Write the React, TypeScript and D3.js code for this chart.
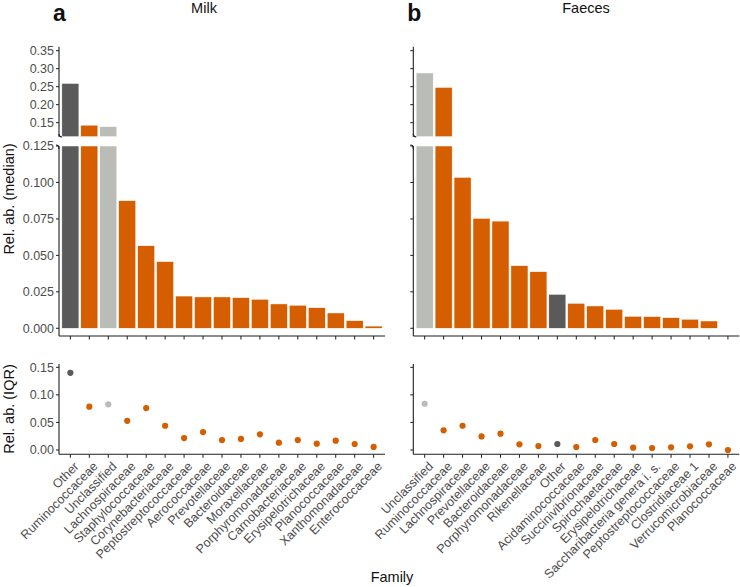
import React from 'react';
import * as d3 from 'd3';

// Milk (panel a)
const milkFamilies = ['Other', 'Ruminococcaceae', 'Unclassified', 'Lachnospiraceae', 'Staphylococcaceae',
  'Corynebacteriaceae', 'Peptostreptococcaceae', 'Aerococcaceae', 'Prevotellaceae', 'Bacteroidaceae',
  'Moraxellaceae', 'Porphyromonadaceae', 'Carnobacteriaceae', 'Erysipelotrichaceae', 'Planococcaceae',
  'Xanthomonadaceae', 'Enterococcaceae'];
const milkMedian = [0.259, 0.143, 0.139, 0.0875, 0.0566, 0.0457, 0.0221, 0.0215, 0.0215, 0.021,
  0.0199, 0.0167, 0.0158, 0.0141, 0.0105, 0.0052, 0.0015];
const milkIQR = [0.140, 0.0785, 0.0828, 0.053, 0.076, 0.044, 0.0217, 0.0326, 0.018, 0.020,
  0.0284, 0.0133, 0.018, 0.0115, 0.0169, 0.0109, 0.0055];

// Faeces (panel b)
const faecesFamilies = ['Unclassified', 'Ruminococcaceae', 'Lachnospiraceae', 'Prevotellaceae', 'Bacteroidaceae',
  'Porphyromonadaceae', 'Rikenellaceae', 'Other', 'Acidaminococcaceae', 'Succinivibrionaceae',
  'Spirochaetaceae', 'Erysipelotrichaceae', 'Saccharibacteria genera i. s.', 'Peptostreptococcaceae',
  'Clostridiaceae 1', 'Verrucomicrobiaceae', 'Planococcaceae'];
const faecesMedian = [0.288, 0.248, 0.1035, 0.0754, 0.0735, 0.0429, 0.0388, 0.0233, 0.0171, 0.0153,
  0.013, 0.0082, 0.008, 0.0073, 0.0062, 0.005, 0.0];
const faecesIQR = [0.0839, 0.0356, 0.044, 0.0247, 0.0296, 0.0103, 0.0072, 0.0109, 0.0054, 0.0181,
  0.0109, 0.0042, 0.0036, 0.0048, 0.0066, 0.0103, 0.0];

const upperTicks = [0.15, 0.2, 0.25, 0.3, 0.35];
const lowerTicks = [0, 0.025, 0.05, 0.075, 0.1, 0.125];
const iqrTicks = [0, 0.05, 0.1, 0.15];

const ORANGE = '#D55E00';
const DARK = '#5A5A5A';
const LIGHT = '#BABCB7';
const AXIS = '#1f1f1f';
const TICKTXT = '#4D4D4D';
const FONT = '"Liberation Sans", Arial, Helvetica, sans-serif';

const colorOf = (f: string) => (f === 'Other' ? DARK : f === 'Unclassified' ? LIGHT : ORANGE);

const BREAK = 0.125;
const yUpper = d3.scaleLinear().domain([0.111, 0.361]).range([136.7, 46.7]);
const yLower = d3.scaleLinear().domain([-0.0053, BREAK]).range([336, 146]);
const yIQR = d3.scaleLinear().domain([-0.0078, 0.156]).range([454.3, 364]);

type PanelProps = {
  families: string[];
  median: number[];
  iqr: number[];
  x0: number;
  x1: number;
  showLabels: boolean;
  letter: string;
  title: string;
  titleX: number;
};

function Panel({ families, median, iqr, x0, x1, showLabels, letter, title, titleX }: PanelProps) {
  const x = d3.scalePoint<string>().domain(families).range([x0, x1]).padding(0.6);
  const bw = x.step() * 0.9;
  const f3 = d3.format('.3f');
  const f2 = d3.format('.2f');

  const yAxis = (scale: d3.ScaleLinear<number, number>, ticks: number[], fmt: (v: number) => string) => (
    <g>
      {ticks.map(t => (
        <g key={t}>
          <line x1={x0 - 3} x2={x0} y1={scale(t)} y2={scale(t)} stroke={AXIS} strokeWidth={1} />
          {showLabels && (
            <text x={x0 - 5} y={scale(t)} dy="0.35em" textAnchor="end" fontSize={12.5} fill={TICKTXT}>{fmt(t)}</text>
          )}
        </g>
      ))}
    </g>
  );

  return (
    <g fontFamily={FONT}>
      <text x={x0 - 6} y={21} fontSize={23} fontWeight="bold" fill="#111">{letter}</text>
      <text x={titleX} y={13} fontSize={14.5} textAnchor="middle" fill="#111">{title}</text>

      {/* upper segment (broken axis) */}
      {families.map((f, i) => median[i] > BREAK ? (
        <rect key={'u' + f} x={x(f)! - bw / 2} width={bw} y={yUpper(median[i])}
          height={yUpper(yUpper.domain()[0]) - yUpper(median[i])} fill={colorOf(f)} stroke="#fff" strokeWidth={0.5} />
      ) : null)}
      <line x1={x0} x2={x0} y1={46.7} y2={136.7} stroke={AXIS} strokeWidth={1.1} />
      <path d={`M${x0},134 Q${x0},137 ${x0 + 3},137`} fill="none" stroke={AXIS} strokeWidth={1.1} />
      {yAxis(yUpper, upperTicks, f2)}

      {/* lower segment */}
      {families.map((f, i) => {
        const v = Math.min(median[i], BREAK);
        return (
          <rect key={'l' + f} x={x(f)! - bw / 2} width={bw} y={yLower(v)}
            height={Math.max(0, yLower(0) - yLower(v))} fill={colorOf(f)} stroke="#fff" strokeWidth={0.5} />
        );
      })}
      <line x1={x0} x2={x0} y1={146} y2={336} stroke={AXIS} strokeWidth={1.1} />
      <path d={`M${x0},149 Q${x0},145 ${x0 - 3},145`} fill="none" stroke={AXIS} strokeWidth={1.1} />
      <line x1={x0} x2={x1} y1={336} y2={336} stroke={AXIS} strokeWidth={1.1} />
      {families.map(f => (
        <line key={'xt' + f} x1={x(f)} x2={x(f)} y1={336} y2={339.5} stroke={AXIS} strokeWidth={1} />
      ))}
      {yAxis(yLower, lowerTicks, f3)}

      {/* IQR dots */}
      <line x1={x0} x2={x0} y1={364} y2={454.3} stroke={AXIS} strokeWidth={1.1} />
      <line x1={x0} x2={x1} y1={454.3} y2={454.3} stroke={AXIS} strokeWidth={1.1} />
      {yAxis(yIQR, iqrTicks, f2)}
      {families.map((f, i) => (
        <circle key={'d' + f} cx={x(f)} cy={yIQR(iqr[i])} r={3.1} fill={colorOf(f)} />
      ))}
      {families.map(f => (
        <g key={'xl' + f}>
          <line x1={x(f)} x2={x(f)} y1={454.3} y2={457.8} stroke={AXIS} strokeWidth={1} />
          <text transform={`translate(${x(f)! + 3},${461}) rotate(-45)`} textAnchor="end" dy="0.7em"
            fontSize={12.5} fill={TICKTXT}>{f}</text>
        </g>
      ))}
    </g>
  );
}

export default function App() {
  return (
    <svg width={740} height={587} style={{ position: 'absolute', left: 0, top: 0, background: '#fff' }}>
      <rect width={740} height={587} fill="#fff" />
      <Panel families={milkFamilies} median={milkMedian} iqr={milkIQR} x0={59} x1={385}
        showLabels letter="a" title="Milk" titleX={204} />
      <Panel families={faecesFamilies} median={faecesMedian} iqr={faecesIQR} x0={413.3} x1={739.3}
        showLabels={false} letter="b" title="Faeces" titleX={586} />
      <text transform="translate(14,199) rotate(-90)" textAnchor="middle" fontSize={14.5}
        fontFamily={FONT} fill="#111">Rel. ab. (median)</text>
      <text transform="translate(14,409) rotate(-90)" textAnchor="middle" fontSize={14.5}
        fontFamily={FONT} fill="#111">Rel. ab. (IQR)</text>
      <text x={392} y={582} textAnchor="middle" fontSize={14.5} fontFamily={FONT} fill="#111">Family</text>
    </svg>
  );
}
